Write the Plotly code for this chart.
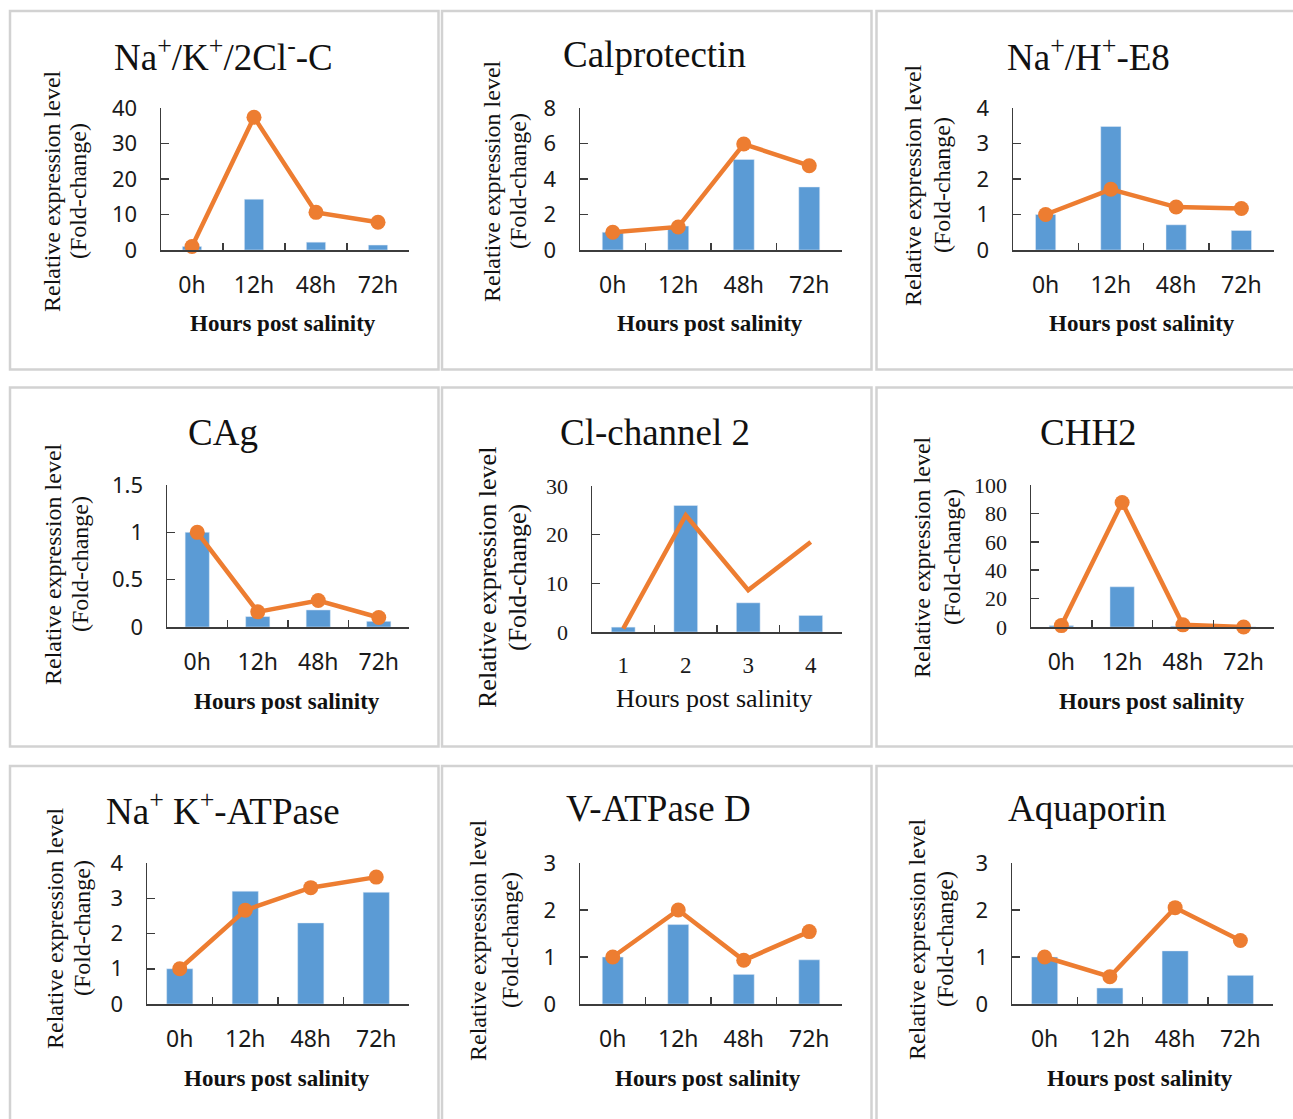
import plotly.graph_objects as go

# ---------------- data ----------------
hours = ["0h", "12h", "48h", "72h"]
cl_ticks = ["1", "2", "3", "4"]

titles = [
    "Na<sup>+</sup>/K<sup>+</sup>/2Cl<sup>-</sup>-C",
    "Calprotectin",
    "Na<sup>+</sup>/H<sup>+</sup>-E8",
    "CAg",
    "Cl-channel 2",
    "CHH2",
    "Na<sup>+</sup> K<sup>+</sup>-ATPase",
    "V-ATPase D",
    "Aquaporin",
]

nkcc_bar = [1.0, 14.3, 2.2, 1.4]
nkcc_line = [1.0, 37.4, 10.6, 7.8]
calp_bar = [1.0, 1.35, 5.1, 3.55]
calp_line = [1.0, 1.3, 5.97, 4.75]
nhe_bar = [1.0, 3.48, 0.71, 0.55]
nhe_line = [1.0, 1.71, 1.21, 1.17]
cag_bar = [1.0, 0.11, 0.18, 0.06]
cag_line = [1.0, 0.16, 0.28, 0.1]
clc_bar = [1.0, 26.0, 6.0, 3.4]
clc_line = [0.7, 24.0, 8.6, 18.5]
chh_bar = [1.0, 28.3, 0.6, 0.1]
chh_line = [1.0, 87.7, 1.5, 0.0]
nka_bar = [1.0, 3.2, 2.3, 3.17]
nka_line = [1.0, 2.66, 3.3, 3.6]
vat_bar = [1.0, 1.69, 0.63, 0.94]
vat_line = [1.0, 2.0, 0.93, 1.54]
aqp_bar = [1.0, 0.34, 1.13, 0.61]
aqp_line = [1.0, 0.58, 2.05, 1.35]

y_ranges = [[0, 40], [0, 8], [0, 4], [0, 1.5], [0, 30], [0, 100], [0, 4], [0, 3], [0, 3]]
y_dticks = [10, 2, 1, 0.5, 10, 20, 1, 1, 1]

bars = [nkcc_bar, calp_bar, nhe_bar, cag_bar, clc_bar, chh_bar, nka_bar, vat_bar, aqp_bar]
lines = [nkcc_line, calp_line, nhe_line, cag_line, clc_line, chh_line, nka_line, vat_line, aqp_line]
cats = [hours, hours, hours, hours, cl_ticks, hours, hours, hours, hours]

# ---------------- layout geometry (pixels) ----------------
W, H = 1293, 1119
# plot areas: x0, x1, ytop, ybottom
areas = [
    (161, 409, 108, 250), (580, 842, 108, 250), (1013, 1274, 108, 250),
    (167, 409, 485, 627), (592, 842, 486, 632), (1031, 1274, 485, 627),
    (147, 409, 863, 1004), (580, 842, 863, 1004), (1012, 1273, 863, 1004),
]
bar_widths = [0.31, 0.32, 0.31, 0.4, 0.38, 0.4, 0.4, 0.32, 0.4]
title_pos = [(223, 54), (655, 55), (1088, 55), (223, 432), (655, 432), (1088, 432),
             (223, 808), (658, 808), (1087, 808)]
ytitle_pos = [  # (x line1, x line2, y center)
    (52, 78, 191), (492, 518, 181), (913, 942, 185),
    (53, 80, 564), (487, 517, 578), (922, 952, 557),
    (55, 82, 928), (478, 510, 940), (917, 945, 939),
]
xtitle_pos = [(283, 324), (710, 324), (1142, 324), (287, 701), (714, 698), (1152, 701),
              (277, 1078), (708, 1078), (1140, 1078)]
box_cols = [(10, 438.5), (442, 871.5), (876.5, 1300)]
box_rows = [(11, 369.5), (387.5, 746.5), (766, 1125)]

BLUE = "#5B9BD5"
ORANGE = "#ED7D31"
SERIF = "Liberation Serif, Times New Roman, serif"
SANS = "Noto Sans, Open Sans, sans-serif"
AXC = "#3c3c3c"

fig = go.Figure()
layout = dict(
    width=W, height=H, margin=dict(l=0, r=0, t=0, b=0, pad=0, autoexpand=False),
    paper_bgcolor="white", plot_bgcolor="white", showlegend=False,
    annotations=[], shapes=[],
)

for i in range(9):
    n = "" if i == 0 else str(i + 1)
    xa, ya = "x" + n, "y" + n
    x0, x1, yt, yb = areas[i]
    fig.add_trace(go.Bar(x=cats[i], y=bars[i], marker_color=BLUE, width=bar_widths[i],
                         xaxis=xa, yaxis=ya))
    if i == 4:
        fig.add_trace(go.Scatter(x=cats[i], y=lines[i], mode="lines",
                                 line=dict(color=ORANGE, width=4.5),
                                 xaxis=xa, yaxis=ya, cliponaxis=False))
    else:
        fig.add_trace(go.Scatter(x=cats[i], y=lines[i], mode="lines+markers",
                                 line=dict(color=ORANGE, width=4.5),
                                 marker=dict(color=ORANGE, size=15),
                                 xaxis=xa, yaxis=ya, cliponaxis=False))
    serif_y = i in (4, 5)
    serif_x = i == 4
    layout["xaxis" + n] = dict(
        domain=[x0 / W, x1 / W], anchor=ya, type="category", automargin=False,
        showline=True, linecolor=AXC, linewidth=1.5, mirror=False,
        ticks="inside", ticklen=7, tickcolor=AXC, tickwidth=1.5, tickson="boundaries",
        showgrid=False, zeroline=False, fixedrange=True,
        tickfont=dict(family=SERIF if serif_x else SANS, size=23, color="#1a1a1a"),
        ticklabelstandoff=12 if serif_x else 14,
    )
    layout["yaxis" + n] = dict(
        domain=[1 - yb / H, 1 - yt / H], anchor=xa, automargin=False,
        range=y_ranges[i], dtick=y_dticks[i], tick0=0,
        showline=True, linecolor=AXC, linewidth=1.5,
        ticks="inside", ticklen=8, tickcolor=AXC, tickwidth=1.5,
        showgrid=False, zeroline=False, fixedrange=True,
        tickfont=dict(family=SERIF if serif_y else SANS, size=22, color="#1a1a1a"),
        ticklabelstandoff=18,
    )
    # title
    tx, ty = title_pos[i]
    layout["annotations"].append(dict(
        text=titles[i], x=tx / W, y=1 - ty / H, xref="paper", yref="paper",
        xanchor="center", yanchor="middle", showarrow=False,
        font=dict(family=SERIF, size=37, color="#111")))
    # y titles
    l1, l2, cy = ytitle_pos[i]
    ysz = 26 if i == 4 else 24
    for lx, txt in ((l1, "Relative expression level"), (l2, "(Fold-change)")):
        layout["annotations"].append(dict(
            text=txt, x=lx / W, y=1 - cy / H, xref="paper", yref="paper",
            xanchor="center", yanchor="middle", textangle=-90, showarrow=False,
            font=dict(family=SERIF, size=ysz, color="#111")))
    # x title
    xx, xy = xtitle_pos[i]
    if i == 4:
        xt = "Hours post salinity"
        xf = dict(family=SERIF, size=26, color="#111")
    else:
        xt = "<b>Hours post salinity</b>"
        xf = dict(family=SERIF, size=23, color="#111")
    layout["annotations"].append(dict(
        text=xt, x=xx / W, y=1 - xy / H, xref="paper", yref="paper",
        xanchor="center", yanchor="middle", showarrow=False, font=xf))

for (r0, r1) in box_rows:
    for (c0, c1) in box_cols:
        layout["shapes"].append(dict(
            type="rect", xref="paper", yref="paper",
            x0=c0 / W, x1=c1 / W, y0=1 - r1 / H, y1=1 - r0 / H,
            line=dict(color="#d2d2d2", width=2.5), fillcolor="rgba(0,0,0,0)", layer="below"))

fig.update_layout(**layout)
fig.write_html("out.html", config={"displayModeBar": False, "staticPlot": True},
               post_script="document.body.style.margin='0';document.body.style.overflow='hidden';")
